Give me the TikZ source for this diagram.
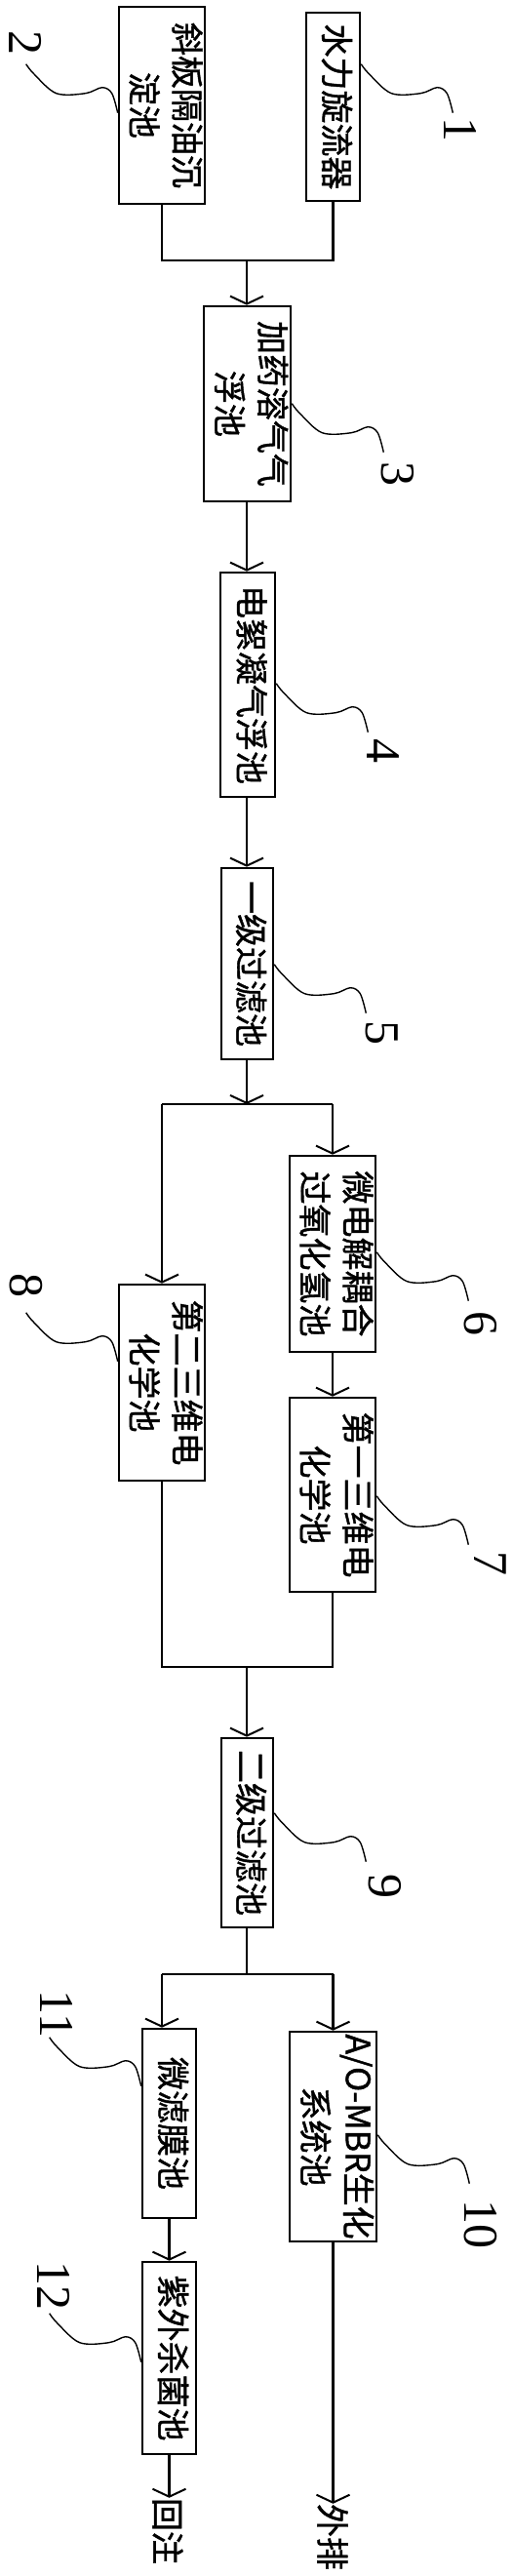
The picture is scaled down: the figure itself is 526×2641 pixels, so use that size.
\documentclass[tikz,border=0pt]{standalone}
\usepackage{fontspec}
\usepackage{graphicx}
\newfontfamily\cjk[FakeBold=1.2]{Noto Sans CJK SC}
\newfontfamily\numf{Liberation Serif}
\usetikzlibrary{arrows.meta,calc}
\newcommand{\vt}[1]{\rotatebox{-90}{\begin{tabular}{@{}c@{}}#1\end{tabular}}}
\tikzset{
  box/.style={draw, line width=2.6pt, inner sep=0pt, rectangle,
    font=\cjk\fontsize{34}{44}\selectfont},
  flow/.style={line width=2.6pt},
  arr/.style={flow, -{Straight Barb[length=8pt,width=34pt,line width=2pt]}},
  outtext/.style={inner sep=0pt, font=\cjk\fontsize{34}{44}\selectfont, rotate=-90},
  num/.style={inner sep=0pt, font=\numf\fontsize{50}{50}\selectfont, rotate=-90},
  leader/.pic={\draw[line width=1.4pt] plot[smooth, tension=0.55] coordinates
     {(0,0) (8,10) (31,30) (61,30) (78,24) (88,30) (94,50)};}
}
\begin{document}
\begin{tikzpicture}[x=1pt,y=-1pt]
\useasboundingbox (0,0) rectangle (526,2641);
\clip (0,0) rectangle (526,2641);
% boxes
\node[box, minimum width=55pt, minimum height=193pt] (b1) at (341.5,109.5) {\vt{水力旋流器}};
\node[box, minimum width=88pt, minimum height=202pt] (b2) at (166,108) {\vt{斜板隔油沉\\淀池}};
\node[box, minimum width=89pt, minimum height=200pt] (b3) at (253.5,414) {\vt{加药溶气气\\浮池}};
\node[box, minimum width=56pt, minimum height=230pt] (b4) at (254,702) {\vt{电絮凝气浮池}};
\node[box, minimum width=53pt, minimum height=196pt] (b5) at (253.5,988) {\vt{一级过滤池}};
\node[box, minimum width=88pt, minimum height=201pt] (b6) at (341,1285.5) {\vt{微电解耦合\\过氧化氢池}};
\node[box, minimum width=88pt, minimum height=199pt] (b7) at (341,1532.5) {\vt{第一三维电\\化学池}};
\node[box, minimum width=88pt, minimum height=201pt] (b8) at (166,1417.5) {\vt{第二三维电\\化学池}};
\node[box, minimum width=53pt, minimum height=194pt] (b9) at (253.5,1879) {\vt{二级过滤池}};
\node[box, minimum width=89pt, minimum height=215pt] (b10) at (341.5,2190.5) {\vt{A/O-MBR生化\\系统池}};
\node[box, minimum width=55pt, minimum height=194pt] (b11) at (173.5,2177) {\vt{微滤膜池}};
\node[box, minimum width=55pt, minimum height=197pt] (b12) at (173.5,2417.5) {\vt{紫外杀菌池}};
\node[outtext] (o1) at (341,2601) {外排};
\node[outtext] (o2) at (172,2595) {回注};
% junction coordinates
\coordinate (j1) at (253,267);
\coordinate (j2) at (253,1132);
\coordinate (j3) at (253,1709);
\coordinate (j4) at (253,2024);
% connectors
\draw[flow] (b2.south) -- (b2.south |- j1) -- (b1.south |- j1) -- (b1.south);
\draw[arr] (j1) -- (j1 |- b3.north);
\draw[arr] (b3.south -| j1) -- (j1 |- b4.north);
\draw[arr] (b4.south -| j1) -- (j1 |- b5.north);
\draw[arr] (b5.south -| j1) -- (j2);
\draw[flow] (b8.north |- j2) -- (b6.north |- j2);
\draw[arr] (b6.north |- j2) -- (b6.north);
\draw[arr] (b8.north |- j2) -- (b8.north);
\draw[arr] (b6.south) -- (b7.north);
\draw[flow] (b7.south) -- (b7.south |- j3) -- (b8.south |- j3) -- (b8.south);
\draw[arr] (j3) -- (j3 |- b9.north);
\draw[flow] (b9.south -| j3) -- (j4);
\draw[flow] (b8.south |- j4) -- (b10.north |- j4);
\draw[arr] (b10.north |- j4) -- (b10.north);
\draw[arr] (b8.south |- j4) -- (b11.north -| b8.south);
\draw[arr] (b11.south) -- (b12.north);
\draw[arr] (b10.south) -- (b10.south |- o1.west);
\draw[arr] (b12.south) -- (b12.south |- o2.west);
% leaders
\pic at ($(b1.north east)+(0,54)$) {leader};
\pic at ($(b3.north east)+(0,101)$) {leader};
\pic at ($(b4.north east)+(0,115)$) {leader};
\pic at ($(b5.north east)+(0,100)$) {leader};
\pic at ($(b6.north east)+(0,100)$) {leader};
\pic at ($(b7.north east)+(0,102)$) {leader};
\pic at ($(b9.north east)+(0,78)$) {leader};
\pic at ($(b10.north east)+(0,107)$) {leader};
\pic at ($(b2.north west)+(-94,60)$) {leader};
\pic at ($(b8.north west)+(-94,30)$) {leader};
\pic at ($(b11.north west)+(-94,10)$) {leader};
\pic at ($(b12.north west)+(-94,54)$) {leader};
% labels
\node[num] (n1) at (472,133) {1};
\node[num] (n2) at (26,44) {2};
\node[num] (n3) at (408,486) {3};
\node[num] (n4) at (393,770) {4};
\node[num] (n5) at (392,1059) {5};
\node[num] (n6) at (493,1357) {6};
\node[num] (n7) at (503,1603) {7};
\node[num] (n8) at (27,1318) {8};
\node[num] (n9) at (395,1934) {9};
\node[num] (n10) at (493,2280) {10};
\node[num] (n11) at (58,2065) {11};
\node[num] (n12) at (55,2343) {12};
\end{tikzpicture}
\end{document}
